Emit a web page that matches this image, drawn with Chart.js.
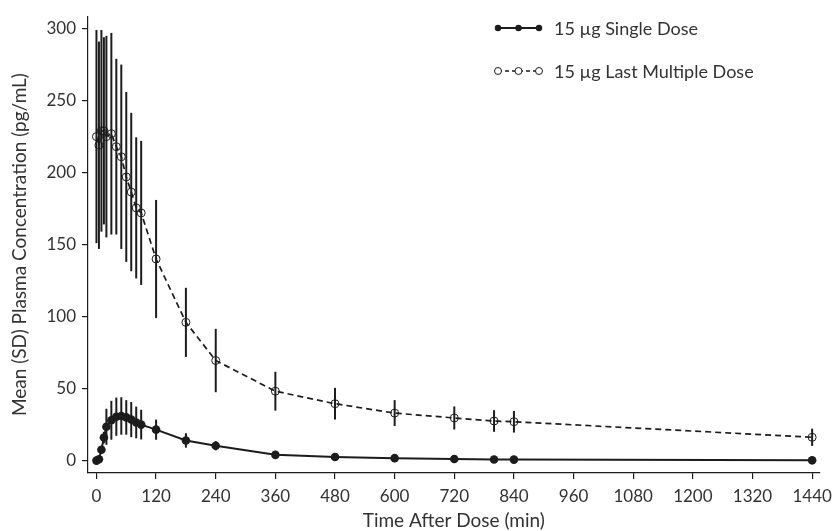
<!DOCTYPE html>
<html>
<head>
<meta charset="utf-8">
<script src="https://cdn.jsdelivr.net/npm/chart.js@4"></script>
<style>
  html, body { margin: 0; padding: 0; background: #fff; }
  #wrap { width: 839px; height: 531px; }
</style>
</head>
<body>
<div id="wrap"><canvas id="plasma_chart" width="839" height="531"></canvas></div>
<script>
// sampling times (min)
const time_points = [0, 5, 10, 15, 20, 30, 40, 50, 60, 70, 80, 90, 120, 180, 240, 360, 480, 600, 720, 800, 840, 1440]

// 15 ug single dose, mean and SD (pg/mL)
const single_mean = [0, 1, 7.5, 16, 23.5, 28, 30.5, 31, 30, 28.5, 26.5, 25, 21.5, 14, 10.3, 4, 2.5, 1.7, 1.1, 0.8, 0.7, 0.2]
const single_sd = [0, 0.3, 2.5, 4, 12.5, 13.5, 13.3, 13, 12, 12.2, 11, 10.3, 7, 5, 3.2, 1, 0.8, 0.6, 0.5, 0.4, 0.4, 0.3]

// 15 ug last multiple dose, mean and SD (pg/mL)
const multiple_mean = [225, 219, 229, 229, 225, 227, 218, 211, 197, 186.5, 175.5, 172, 140, 96, 69.5, 48.2, 39.5, 33, 29.6, 27.5, 27, 16.2]
const multiple_sd = [74, 72, 70, 65, 70, 70, 61, 64, 59, 55, 49, 50, 41, 24, 22, 13.5, 11, 9, 8, 7.5, 7.5, 6]

const x_ticks = [0, 120, 240, 360, 480, 600, 720, 840, 960, 1080, 1200, 1320, 1440]
const y_ticks = [0, 50, 100, 150, 200, 250, 300]

const series_labels = ['15 \u00b5g Single Dose', '15 \u00b5g Last Multiple Dose']

const ink = '#1c1c1c'
const text_color = '#333'
const font_family = 'Lato, "Open Sans", sans-serif'

// draws the SD bars under the points
const sd_bars = {
  id: 'sd_bars',
  beforeDatasetsDraw(chart) {
    const ctx = chart.ctx
    const x = chart.scales.x
    const y = chart.scales.y
    ctx.save()
    ctx.strokeStyle = ink
    ctx.lineWidth = 2
    chart.data.datasets.forEach(ds => {
      ds.data.forEach((p, i) => {
        const sd = ds.sd[i]
        if (!sd) return
        const px = x.getPixelForValue(p.x)
        ctx.beginPath()
        ctx.moveTo(px, y.getPixelForValue(p.y + sd))
        ctx.lineTo(px, y.getPixelForValue(p.y - sd))
        ctx.stroke()
      })
    })
    ctx.restore()
  }
}

// legend in the upper right of the plot
const dose_legend = {
  id: 'dose_legend',
  afterDraw(chart) {
    const ctx = chart.ctx
    const rows = [28, 71]
    ctx.save()
    chart.data.datasets.forEach((ds, i) => {
      const yy = rows[i]
      ctx.strokeStyle = ink
      ctx.lineWidth = i === 0 ? 2 : 1.6
      ctx.setLineDash(i === 0 ? [] : [4, 3])
      ctx.beginPath()
      ctx.moveTo(498, yy)
      ctx.lineTo(539, yy)
      ctx.stroke()
      ctx.setLineDash([])
      ;[498, 518.5, 539].forEach(mx => {
        ctx.beginPath()
        ctx.arc(mx, yy, i === 0 ? 3.2 : 3.5, 0, Math.PI * 2)
        if (i === 0) {
          ctx.fillStyle = ink
          ctx.fill()
        } else {
          ctx.fillStyle = '#fff'
          ctx.fill()
          ctx.lineWidth = 1
          ctx.stroke()
        }
      })
      ctx.fillStyle = text_color
      ctx.font = '18px ' + font_family
      ctx.textBaseline = 'middle'
      ctx.fillText(ds.label, 554, yy + 1)
    })
    ctx.restore()
  }
}

const ctx = document.getElementById('plasma_chart').getContext('2d')

const plasma_chart = new Chart(ctx, {
  type: 'line',
  data: {
    datasets: [
      {
        label: series_labels[0],
        data: time_points.map((t, i) => ({x: t, y: single_mean[i]})),
        sd: single_sd,
        borderColor: ink,
        borderWidth: 2,
        pointRadius: 4.3,
        pointBackgroundColor: ink,
        pointBorderColor: ink,
        pointBorderWidth: 0,
        tension: 0
      },
      {
        label: series_labels[1],
        data: time_points.map((t, i) => ({x: t, y: multiple_mean[i]})),
        sd: multiple_sd,
        borderColor: ink,
        borderWidth: 1.7,
        borderDash: [6, 4],
        pointRadius: 4,
        pointBackgroundColor: 'rgba(255,255,255,0)',
        pointBorderColor: ink,
        pointBorderWidth: 1,
        tension: 0
      }
    ]
  },
  options: {
    responsive: false,
    animation: false,
    layout: {padding: {left: 0, top: 13, right: 14, bottom: 0}},
    plugins: {
      legend: {display: false},
      tooltip: {enabled: false}
    },
    scales: {
      x: {
        type: 'linear',
        min: -17,
        max: 1455,
        afterBuildTicks: axis => { axis.ticks = x_ticks.map(v => ({value: v})) },
        afterFit: axis => { axis.height = 58 },
        grid: {drawOnChartArea: false, drawTicks: true, tickLength: 6, color: ink, lineWidth: 1.2},
        border: {display: true, color: ink, width: 1.2},
        ticks: {
          color: text_color,
          font: {family: font_family, size: 17},
          padding: 7,
          maxRotation: 0,
          autoSkip: false,
          callback: v => String(v)
        },
        title: {
          display: true,
          text: 'Time After Dose (min)',
          color: text_color,
          font: {family: font_family, size: 19, lineHeight: 1},
          padding: {top: 0, bottom: 1}
        }
      },
      y: {
        type: 'linear',
        min: -8.6,
        max: 308.6,
        afterBuildTicks: axis => { axis.ticks = y_ticks.map(v => ({value: v})) },
        afterFit: axis => { axis.width = 88 },
        grid: {drawOnChartArea: false, drawTicks: true, tickLength: 6, color: ink, lineWidth: 1.2},
        border: {display: true, color: ink, width: 1.2},
        ticks: {
          color: text_color,
          font: {family: font_family, size: 17},
          padding: 6,
          callback: v => String(v)
        },
        title: {
          display: true,
          text: 'Mean (SD) Plasma Concentration (pg/mL)',
          color: text_color,
          font: {family: font_family, size: 19, lineHeight: 1},
          padding: {top: 10, bottom: 0}
        }
      }
    }
  },
  plugins: [sd_bars, dose_legend]
})
</script>
</body>
</html>
